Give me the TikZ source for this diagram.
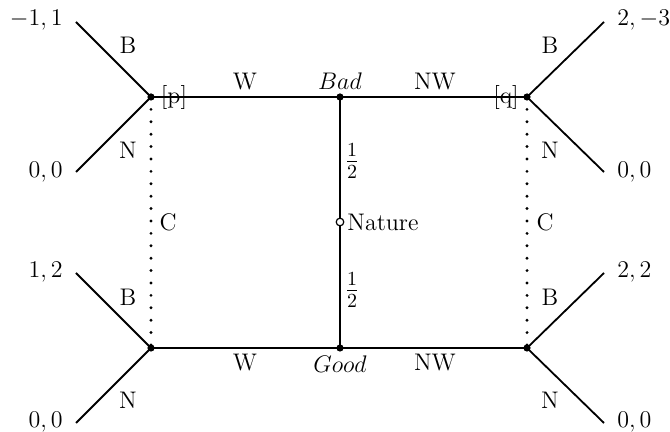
\documentclass[tikz,border=0pt]{standalone}
\begin{document}
\begin{tikzpicture}[x=0.5pt,y=-0.5pt, font=\large,
  move/.style={line width=1.4pt},
  branch/.style={line width=0.9pt},
  infoset/.style={line width=1.6pt, line cap=round, dash pattern=on 0pt off 6.2pt},
  soliddot/.style={circle, fill=black, inner sep=0pt, minimum size=3.6pt},
  hollowdot/.style={circle, draw=black, fill=white, inner sep=0pt, minimum size=3.8pt, line width=0.6pt},
  lbl/.style={inner sep=0pt},
  frac/.style={inner sep=0pt, font=\Large}]
\useasboundingbox (0,0) rectangle (670,432);
% decision points
\coordinate (p) at (151,97);
\coordinate (bad) at (340,97);
\coordinate (q) at (527,97);
\coordinate (pl) at (151,348);
\coordinate (good) at (340,348);
\coordinate (ql) at (527,348);
\coordinate (nat) at (340,222);
% leaves
\coordinate (l1) at (76,22);
\coordinate (l2) at (76,172);
\coordinate (l3) at (76,273);
\coordinate (l4) at (76,423);
\coordinate (r1) at (604,22);
\coordinate (r2) at (604,172);
\coordinate (r3) at (604,273);
\coordinate (r4) at (604,423);
% information sets
\draw[infoset] (p) -- (pl);
\draw[infoset] (q) -- (ql);
% main moves
\draw[move] (p) -- (bad) -- (q);
\draw[move] (pl) -- (good) -- (ql);
\draw[move] (bad) -- (good);
% terminal branches
\draw[branch] (l1) -- (p) -- (l2);
\draw[branch] (l3) -- (pl) -- (l4);
\draw[branch] (r1) -- (q) -- (r2);
\draw[branch] (r3) -- (ql) -- (r4);
% dots
\foreach \c in {p,bad,q,pl,good,ql}{\node[soliddot] (d\c) at (\c) {};}
\node[hollowdot] (dnat) at (nat) {};
% payoffs
\node[lbl, anchor=east] (t1) at (63,20) {$-1,1$};
\node[lbl, anchor=east] (t2) at (63,172) {$0,0$};
\node[lbl, anchor=east] (t3) at (63,272) {$1,2$};
\node[lbl, anchor=east] (t4) at (63,422) {$0,0$};
\node[lbl, anchor=west] (u1) at (617,20) {$2,-3$};
\node[lbl, anchor=west] (u2) at (617,172) {$0,0$};
\node[lbl, anchor=west] (u3) at (617,272) {$2,2$};
\node[lbl, anchor=west] (u4) at (617,422) {$0,0$};
% branch labels
\node[lbl] (bl1) at (128,45) {B};
\node[lbl] (nl1) at (128,150) {N};
\node[lbl] (bl2) at (128,297) {B};
\node[lbl] (nl2) at (128,400) {N};
\node[lbl] (br1) at (550,45) {B};
\node[lbl] (nr1) at (550,150) {N};
\node[lbl] (br2) at (550,297) {B};
\node[lbl] (nr2) at (550,400) {N};
% move labels
\node[lbl] (w1) at (245,82) {W};
\node[lbl] (nw1) at (435,82) {NW};
\node[lbl] (w2) at (245,363) {W};
\node[lbl] (nw2) at (435,363) {NW};
\node[lbl] (badl) at (340,81) {$Bad$};
\node[lbl] (goodl) at (340,364) {$Good$};
\node[lbl] (pl1) at (174,98) {[p]};
\node[lbl] (ql1) at (506,98) {[q]};
\node[lbl] (c1) at (168,222) {C};
\node[lbl] (c2) at (545,222) {C};
\node[frac] (h1) at (352,161) {$\frac{1}{2}$};
\node[frac] (h2) at (352,290) {$\frac{1}{2}$};
\node[lbl, anchor=west] (natl) at (347,222) {Nature};
\end{tikzpicture}
\end{document}
